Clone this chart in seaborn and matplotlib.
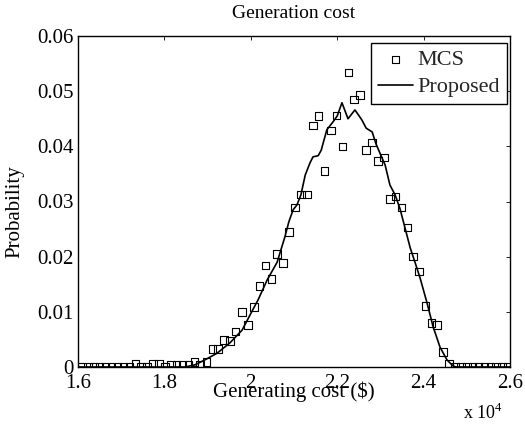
import matplotlib
matplotlib.use("Agg")
import matplotlib.pyplot as plt
import seaborn as sns
import pandas as pd

# ---------------- data (x in units of 10^4 $) ----------------
mcs_cost = [1.609, 1.623, 1.637, 1.650, 1.664, 1.678, 1.691, 1.705, 1.719, 1.733,
            1.746, 1.760, 1.774, 1.787, 1.801, 1.815, 1.828, 1.842, 1.856, 1.870,
            1.883, 1.897, 1.911, 1.924, 1.938, 1.952, 1.965, 1.979, 1.993, 2.007,
            2.020, 2.034, 2.048, 2.061, 2.075, 2.089, 2.102, 2.116, 2.130, 2.144,
            2.157, 2.171, 2.185, 2.198, 2.212, 2.226, 2.239, 2.253, 2.267, 2.281,
            2.294, 2.308, 2.322, 2.335, 2.349, 2.363, 2.376, 2.390, 2.404, 2.418,
            2.431, 2.445, 2.459, 2.472, 2.486, 2.500, 2.513, 2.527, 2.541, 2.555,
            2.568, 2.582, 2.596]
mcs_prob = [0, 0, 0, 0, 0, 0, 0, 0, 0, 0.0005,
            0, 0, 0.0005, 0.0005, 0, 0.0004, 0.0004, 0.0004, 0.0004, 0.0009,
            0.0004, 0.0009, 0.0033, 0.0033, 0.0049, 0.0047, 0.0064, 0.0100, 0.0076, 0.0109,
            0.0147, 0.0184, 0.0160, 0.0205, 0.0189, 0.0245, 0.0289, 0.0313, 0.0313, 0.0438,
            0.0455, 0.0355, 0.0429, 0.0456, 0.0400, 0.0534, 0.0485, 0.0493, 0.0393, 0.0407,
            0.0373, 0.0380, 0.0305, 0.0309, 0.0289, 0.0253, 0.0200, 0.0173, 0.0111, 0.0080,
            0.0076, 0.0027, 0.0005, 0, 0, 0, 0, 0, 0, 0,
            0, 0, 0]

prop_cost = [1.600, 1.848, 1.871, 1.894, 1.922, 1.952, 1.980, 1.998, 2.017, 2.038,
             2.061, 2.068, 2.079, 2.088, 2.098, 2.107, 2.116, 2.126, 2.137, 2.144,
             2.156, 2.163, 2.176, 2.190, 2.200, 2.211, 2.225, 2.241, 2.257, 2.267,
             2.281, 2.290, 2.301, 2.311, 2.322, 2.334, 2.345, 2.357, 2.369, 2.380,
             2.392, 2.408, 2.422, 2.438, 2.454, 2.468, 2.475, 2.600]
prop_prob = [0, 0, 0.0004, 0.0013, 0.0025, 0.0044, 0.0067, 0.0094, 0.0122, 0.0158,
             0.0190, 0.0208, 0.0236, 0.0263, 0.0285, 0.0294, 0.0312, 0.0348, 0.0370, 0.0381,
             0.0383, 0.0393, 0.0430, 0.0444, 0.0455, 0.0479, 0.0450, 0.0466, 0.0448, 0.0433,
             0.0426, 0.0404, 0.0384, 0.0366, 0.0330, 0.0312, 0.0288, 0.0252, 0.0216, 0.0190,
             0.0161, 0.0116, 0.0073, 0.0036, 0.0013, 0.0002, 0, 0]

x_ticks = [1.6, 1.8, 2.0, 2.2, 2.4, 2.6]
x_tick_labels = ["1.6", "1.8", "2", "2.2", "2.4", "2.6"]
y_ticks = [0, 0.01, 0.02, 0.03, 0.04, 0.05, 0.06]
y_tick_labels = ["0", "0.01", "0.02", "0.03", "0.04", "0.05", "0.06"]

mcs_df = pd.DataFrame({"cost": mcs_cost, "prob": mcs_prob})
prop_df = pd.DataFrame({"cost": prop_cost, "prob": prop_prob})

# ---------------- style ----------------
sns.set_theme(style="white")
plt.rcParams["font.family"] = ["Liberation Serif", "DejaVu Serif"]
plt.rcParams["mathtext.fontset"] = "custom"
plt.rcParams["mathtext.rm"] = "Liberation Serif"

fig = plt.figure(figsize=(5.25, 4.30), dpi=100)
ax = fig.add_axes([78 / 525, 63 / 430, 432 / 525, 331 / 430])

sns.scatterplot(data=mcs_df, x="cost", y="prob", ax=ax, marker="s", s=30,
                facecolor="none", edgecolor="black", linewidth=0.8, label="MCS",
                zorder=3)
sns.lineplot(data=prop_df, x="cost", y="prob", ax=ax, color="black",
             linewidth=1.2, label="Proposed", zorder=4)

ax.set_xlim(1.6, 2.6)
ax.set_ylim(0, 0.06)
ax.set_xticks(x_ticks)
ax.set_xticklabels(x_tick_labels)
ax.set_yticks(y_ticks)
ax.set_yticklabels(y_tick_labels)
ax.tick_params(direction="in", length=3, width=0.6, top=True, right=True,
               labelsize=15, colors="black", pad=3)
ax.tick_params(axis="x", pad=5)

for sp in ax.spines.values():
    sp.set_color("black")
    sp.set_linewidth(1.0)

ax.set_xlabel("Generating cost ($)", fontsize=15, color="black")
ax.xaxis.set_label_coords(0.5, -0.045)
ax.xaxis.label.set_va("top")
ax.set_ylabel("Probability", fontsize=15, color="black")
ax.yaxis.set_label_coords(-0.125, 0.47)
ax.set_title("Generation cost", fontsize=14, color="black", pad=13)

fig.text(463 / 525, 1 - 413 / 430, "x 10$^4$", fontsize=13, color="black",
         ha="left", va="center")

leg = ax.legend(loc="upper right", bbox_to_anchor=(0.993, 0.979),
                fontsize=16, frameon=True, fancybox=False,
                edgecolor="black", framealpha=1, borderaxespad=0.0,
                handlelength=1.6, handletextpad=0.2, borderpad=0.3,
                labelspacing=0.3)
leg.get_frame().set_linewidth(1.0)

fig.savefig("out.png", dpi=100)
